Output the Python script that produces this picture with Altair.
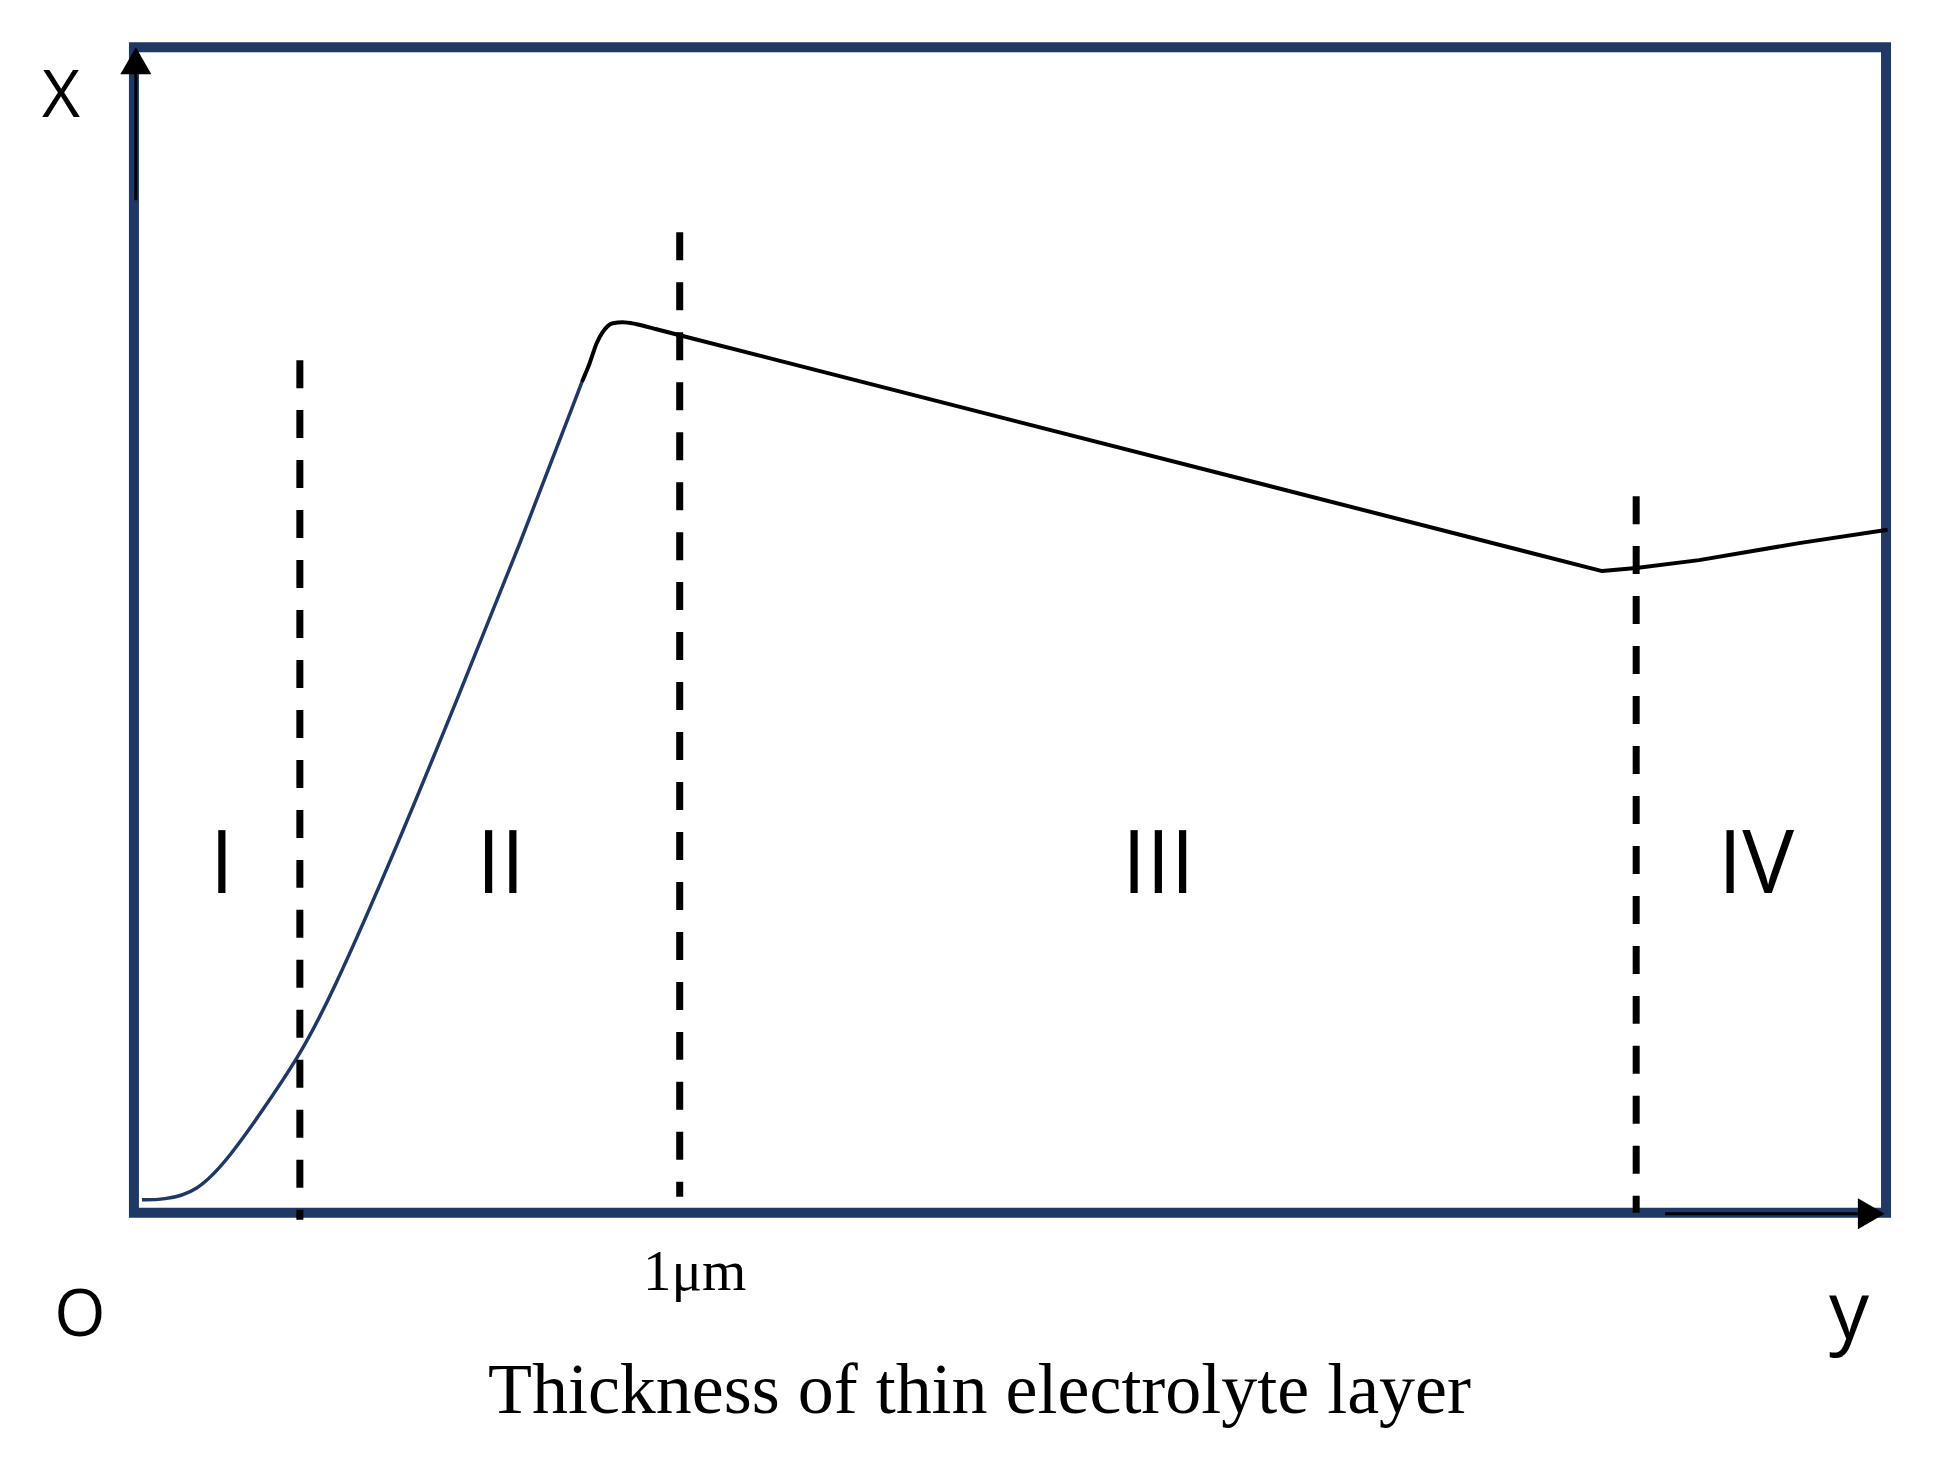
import altair as alt
import pandas as pd

# Schematic units: 0-100 on both axes (x = thickness, y = corrosion rate "X")
# Rising part of the curve (blue, regions I-II)
blue_x = [0.46, 1.65, 3.59, 5.48, 7.36, 9.30, 11.18, 15.17, 18.31, 22.02, 25.61]
blue_y = [1.11, 1.11, 1.72, 4.80, 8.83, 13.12, 18.27, 31.99, 43.57, 57.29, 71.44]

# Rounded peak (black)
peak_x = [25.61, 26.01, 26.41, 26.75, 27.33, 27.90, 28.69, 29.83, 31.15]
peak_y = [71.44, 72.90, 74.61, 75.56, 76.33, 76.42, 76.24, 75.81, 75.30]

# Decline and final rise (black, regions II-IV)
tail_x = [31.15, 83.80, 85.74, 89.33, 95.04, 100.0]
tail_y = [75.30, 55.06, 55.32, 56.00, 57.46, 58.58]

# Dashed region boundaries
bound_x = [9.47, 31.15, 85.74]
bound_top = [73.16, 84.13, 61.49]
bound_bottom = [-0.60, 1.37, 0.0]

# Region labels
region_labels = ["I", "II", "III", "IV"]
region_x = [5.02, 20.94, 58.47, 92.58]
region_y = [27.44, 27.44, 27.44, 27.44]

# Axis letters
letter_text = ["X", "O"]
letter_x = [-4.16, -3.08]
letter_y = [94.0, -10.55]
ylet_text = ["y"]
ylet_x = [97.89]
ylet_y = [-10.81]

tick_text = ["1\u03bcm"]
tick_x = [32.0]
tick_y = [-6.6]

title_text = ["Thickness  of thin electrolyte  layer"]
title_x = [48.26]
title_y = [-17.15]

# Axis arrows
arrow_shapes = ["triangle-up", "triangle-right"]
arrow_x = [0.11, 99.16]
arrow_y = [98.85, -0.09]
shaft_x = [0.11, 87.39]
shaft_x2 = [0.11, 99.0]
shaft_y = [98.0, -0.09]
shaft_y2 = [86.88, -0.09]

NAVY = "#203864"
SANS = "Open Sans"

xs = alt.Scale(domain=[0, 100], nice=False, zero=False)
ys = alt.Scale(domain=[0, 100], nice=False, zero=False)


def X(f="x"):
    return alt.X(f"{f}:Q", scale=xs, axis=None)


def Y(f="y"):
    return alt.Y(f"{f}:Q", scale=ys, axis=None)


blue = alt.Chart(pd.DataFrame({"x": blue_x, "y": blue_y})).mark_line(
    color=NAVY, strokeWidth=3.5, interpolate="basis"
).encode(x=X(), y=Y())

peak = alt.Chart(pd.DataFrame({"x": peak_x, "y": peak_y})).mark_line(
    color="black", strokeWidth=4, interpolate="monotone", strokeCap="round"
).encode(x=X(), y=Y())

tail = alt.Chart(pd.DataFrame({"x": tail_x, "y": tail_y})).mark_line(
    color="black", strokeWidth=4, interpolate="linear", strokeJoin="round", strokeCap="round"
).encode(x=X(), y=Y())

bounds = alt.Chart(pd.DataFrame({"x": bound_x, "y": bound_top, "y2": bound_bottom})).mark_rule(
    color="black", strokeWidth=7, strokeDash=[28, 22]
).encode(x=X(), y=Y(), y2="y2:Q")

shafts = alt.Chart(pd.DataFrame({"x": shaft_x, "x2": shaft_x2, "y": shaft_y, "y2": shaft_y2})).mark_rule(
    color="black", strokeWidth=3
).encode(x=X(), x2="x2:Q", y=Y(), y2="y2:Q")

heads = alt.Chart(pd.DataFrame({"x": arrow_x, "y": arrow_y, "s": arrow_shapes})).mark_point(
    filled=True, size=961, color="black", opacity=1, strokeWidth=0
).encode(x=X(), y=Y(), shape=alt.Shape("s:N", scale=None, legend=None))

regions = alt.Chart(pd.DataFrame({"x": region_x, "y": region_y, "t": region_labels})).mark_text(
    font=SANS, fontSize=87, fontWeight="normal", color="black", align="center", baseline="alphabetic"
).encode(x=X(), y=Y(), text="t:N")

letters = alt.Chart(pd.DataFrame({"x": letter_x, "y": letter_y, "t": letter_text})).mark_text(
    font=SANS, fontSize=66, fontWeight="normal", color="black", align="center", baseline="alphabetic"
).encode(x=X(), y=Y(), text="t:N")

ylet = alt.Chart(pd.DataFrame({"x": ylet_x, "y": ylet_y, "t": ylet_text})).mark_text(
    font=SANS, fontSize=80, fontWeight="normal", color="black", align="center", baseline="alphabetic"
).encode(x=X(), y=Y(), text="t:N")

tick = alt.Chart(pd.DataFrame({"x": tick_x, "y": tick_y, "t": tick_text})).mark_text(
    font="Liberation Serif", fontSize=57, color="black", align="center", baseline="alphabetic"
).encode(x=X(), y=Y(), text="t:N")

title = alt.Chart(pd.DataFrame({"x": title_x, "y": title_y, "t": title_text})).mark_text(
    font="Liberation Serif", fontSize=72, color="black", align="center", baseline="alphabetic"
).encode(x=X(), y=Y(), text="t:N")

chart = alt.layer(
    blue, peak, tail, bounds, shafts, heads, regions, letters, ylet, tick, title
).properties(
    width=1753,
    height=1166,
    autosize=alt.AutoSizeParams(type="none"),
    padding={"left": 126, "top": 39, "right": 50, "bottom": 240},
    background="white",
).configure_view(stroke=NAVY, strokeWidth=10)

chart.save("out.html", embed_options={"renderer": "svg", "actions": False})
